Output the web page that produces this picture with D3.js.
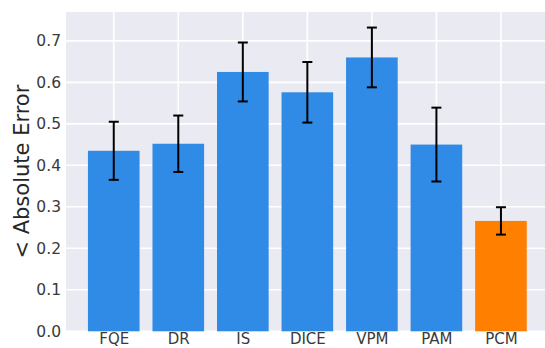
<!DOCTYPE html>
<html>
<head>
<meta charset="utf-8">
<script src="https://cdn.jsdelivr.net/npm/d3@7"></script>
<style>
  html, body { margin: 0; padding: 0; background: #fff; }
  svg { display: block; }
  .tick text { font-family: "DejaVu Sans", sans-serif; }
</style>
</head>
<body>
<svg id="chart" width="545" height="348"></svg>
<script>
// Mean absolute error per method, with error bar half-widths
const methods = ["FQE", "DR", "IS", "DICE", "VPM", "PAM", "PCM"];
const meanError = [0.435, 0.452, 0.625, 0.576, 0.660, 0.450, 0.266];
const errorBar = [0.070, 0.068, 0.071, 0.073, 0.072, 0.089, 0.033];
const yTicks = [0.0, 0.1, 0.2, 0.3, 0.4, 0.5, 0.6, 0.7];
const highlighted = "PCM";

const W = 545, H = 348;
const plot = { left: 66, right: 548.7, top: 12, bottom: 331.3 };
const barWidth = 0.8;

const svg = d3.select("#chart");

// Bars sit at integer positions; axis limits include a small margin
const x = d3.scaleLinear()
  .domain([-0.4 - 0.34, methods.length - 1 + 0.4 + 0.34])
  .range([plot.left, plot.right]);
const y = d3.scaleLinear()
  .domain([0, 0.7695])
  .range([plot.bottom, plot.top]);

// Axes background
svg.append("rect")
  .attr("x", plot.left).attr("y", plot.top)
  .attr("width", plot.right - plot.left)
  .attr("height", plot.bottom - plot.top)
  .attr("fill", "#EAEAF2");

// Grid lines
const grid = svg.append("g");
grid.selectAll("line.h").data(yTicks).join("line")
  .attr("class", "h")
  .attr("x1", plot.left).attr("x2", plot.right)
  .attr("y1", d => y(d)).attr("y2", d => y(d))
  .attr("stroke", "#fff").attr("stroke-width", 1.6);
grid.selectAll("line.v").data(methods).join("line")
  .attr("class", "v")
  .attr("x1", (d, i) => x(i)).attr("x2", (d, i) => x(i))
  .attr("y1", plot.top).attr("y2", plot.bottom)
  .attr("stroke", "#fff").attr("stroke-width", 1.6);

// Bars
const bw = x(barWidth) - x(0);
svg.append("g").selectAll("rect").data(methods).join("rect")
  .attr("x", (d, i) => x(i) - bw / 2)
  .attr("y", (d, i) => y(meanError[i]))
  .attr("width", bw)
  .attr("height", (d, i) => y(0) - y(meanError[i]))
  .attr("fill", d => d === highlighted ? "#FF7F00" : "#308BE6");

// Error bars with caps
const eb = svg.append("g").attr("stroke", "#000").attr("stroke-width", 2);
methods.forEach((m, i) => {
  const cx = x(i);
  const lo = y(meanError[i] - errorBar[i]);
  const hi = y(meanError[i] + errorBar[i]);
  eb.append("line").attr("x1", cx).attr("x2", cx).attr("y1", lo).attr("y2", hi);
  eb.append("line").attr("x1", cx - 5).attr("x2", cx + 5).attr("y1", lo).attr("y2", lo);
  eb.append("line").attr("x1", cx - 5).attr("x2", cx + 5).attr("y1", hi).attr("y2", hi);
});

// Y axis
const yAxis = svg.append("g")
  .attr("transform", `translate(${plot.left},0)`)
  .call(d3.axisLeft(y).tickValues(yTicks).tickFormat(d3.format(".1f")).tickSize(0).tickPadding(5));
yAxis.select(".domain").remove();
yAxis.selectAll("text").attr("font-size", 15.5).attr("fill", "#3a3a3a");

// X axis
const xAxis = svg.append("g")
  .attr("transform", `translate(0,${plot.bottom})`)
  .call(d3.axisBottom(x).tickValues(d3.range(methods.length)).tickFormat(i => methods[i]).tickSize(0).tickPadding(2));
xAxis.select(".domain").remove();
xAxis.selectAll("text").attr("font-size", 15).attr("fill", "#3a3a3a");

// Y axis title
svg.append("text")
  .attr("transform", `translate(29,${(plot.top + plot.bottom) / 2}) rotate(-90)`)
  .attr("text-anchor", "middle")
  .attr("font-family", "DejaVu Sans, sans-serif")
  .attr("font-size", 21)
  .attr("fill", "#262626")
  .text("< Absolute Error");
</script>
</body>
</html>
